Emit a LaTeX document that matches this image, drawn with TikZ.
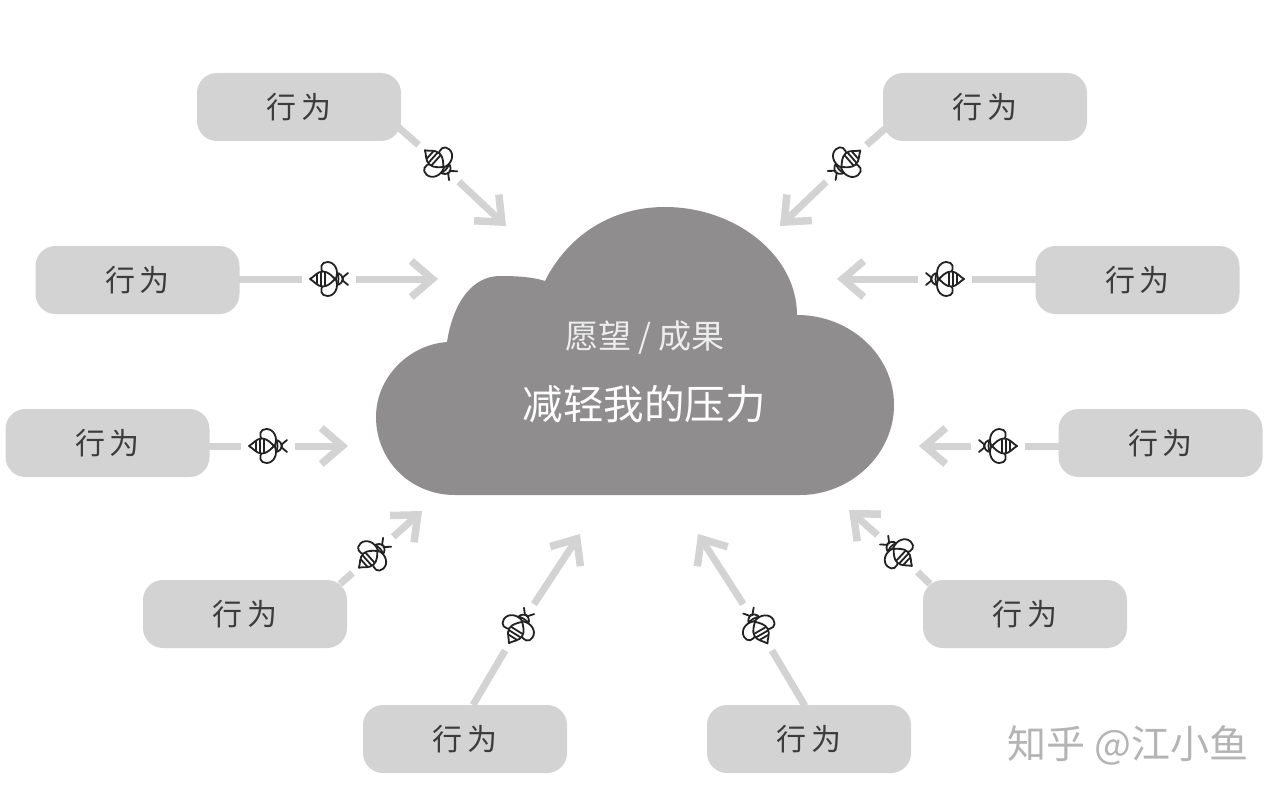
\documentclass[tikz,border=0pt]{standalone}
\usepackage{fontspec}
\setmainfont{Noto Sans CJK SC}
\usetikzlibrary{arrows.meta}
\definecolor{boxgray}{HTML}{D3D3D3}
\definecolor{cloudgray}{HTML}{8F8D8E}
\definecolor{inkgray}{HTML}{3C3C3C}
\definecolor{beeink}{HTML}{222222}
\definecolor{markgray}{HTML}{B4B4B4}
\tikzset{
  actbox/.style={fill=boxgray,rounded corners=20pt,minimum width=204pt,minimum height=68pt,inner sep=0pt,text=inkgray,font=\fontsize{30}{33}\selectfont},
  beept/.style={inner sep=0pt,minimum size=0pt},
  tail/.style={draw=boxgray,line width=7pt,shorten >=27pt},
  head/.style={draw=boxgray,line width=7pt,shorten <=27pt,-{Straight Barb[length=21pt,width=36pt,line width=7.5pt]}},
  beeline/.style={draw=beeink,line width=1.8pt,line join=round,line cap=round,fill=none},
}
\newcommand{\beedraw}[3]{%
  \begin{scope}[shift={(#1,#2)},rotate=#3]
    \draw[beeline,fill=white] (7,-1) .. controls (10,-8) and (6,-17) .. (-1.5,-17) .. controls (-8,-17) and (-10,-11) .. (-5,-5)
      -- (-5,5) .. controls (-10,11) and (-8,17) .. (-1.5,17) .. controls (6,17) and (10,8) .. (7,1) -- cycle;
    \draw[beeline,fill=white] (-19,0) .. controls (-15,-2) and (-12,-7.5) .. (-6,-7.5) .. controls (-1,-7.5) and (3,-3) .. (6,0)
      .. controls (3,3) and (-1,7.5) .. (-6,7.5) .. controls (-12,7.5) and (-15,2) .. (-19,0) -- cycle;
    \draw[beeline] (-12,-4.5) -- (-12,4.5) (-8,-6.5) -- (-8,6.5) (-4,-6.5) -- (-4,6.5);
    \draw[beeline,fill=white] (8,-6) .. controls (11,-6) and (14,-2) .. (14,0) .. controls (14,2) and (11,6) .. (8,6) .. controls (10,2) and (10,-2) .. (8,-6) -- cycle;
    \draw[beeline] (13,-1) -- (19,-6) (13,1) -- (19,6);
  \end{scope}}
\begin{document}
\begin{tikzpicture}[x=1pt,y=-1pt]
\useasboundingbox (0,0) rectangle (1280,797);
\fill[white] (0,0) rectangle (1280,797);
% cloud
\path[fill=cloudgray] (455,495) .. controls (410,495) and (376,460) .. (376,417)
  .. controls (376,378) and (408,345) .. (447,342)
  .. controls (453,303) and (472,276) .. (500,276)
  .. controls (517,276) and (533,277) .. (545,281)
  .. controls (568,235) and (612,207) .. (665,207)
  .. controls (735,207) and (797,255) .. (797,315)
  .. controls (850,315) and (894,355) .. (894,405)
  .. controls (894,455) and (850,495) .. (800,495) -- cycle;
\node[text=white!93!black,font=\fontsize{33}{36}\selectfont] (wish) at (645,338) {愿望 / 成果};
\node[text=white,font=\fontsize{40.5}{44}\selectfont] (goal) at (644,404) {减轻我的压力};
% behaviour boxes
\node[actbox] (b1)  at (299,107)  {\raisebox{-1pt}{行\hspace{5pt}为}};
\node[actbox] (b2)  at (985,107)  {\raisebox{-1pt}{行\hspace{5pt}为}};
\node[actbox] (b3)  at (137.5,280) {\raisebox{-1pt}{行\hspace{5pt}为}};
\node[actbox] (b4)  at (1137.5,280) {\raisebox{-1pt}{行\hspace{5pt}为}};
\node[actbox] (b5)  at (107.5,443) {\raisebox{-1pt}{行\hspace{5pt}为}};
\node[actbox] (b6)  at (1160.5,443) {\raisebox{-1pt}{行\hspace{5pt}为}};
\node[actbox] (b7)  at (245,614)  {\raisebox{-1pt}{行\hspace{5pt}为}};
\node[actbox] (b8)  at (1025,614) {\raisebox{-1pt}{行\hspace{5pt}为}};
\node[actbox] (b9)  at (465,739)  {\raisebox{-1pt}{行\hspace{5pt}为}};
\node[actbox] (b10) at (809,739)  {\raisebox{-1pt}{行\hspace{5pt}为}};
% bee anchors, line starts and tips
\node[beept] (p1) at (439,163) {}; \coordinate (s1) at (397,126); \coordinate (t1) at (506,226);
\node[beept] (p2) at (846,163) {}; \coordinate (s2) at (887,127); \coordinate (t2) at (780,226);
\node[beept] (p3) at (329,279) {}; \coordinate (s3) at (238,279); \coordinate (t3) at (438,279);
\node[beept] (p4) at (945,279) {}; \coordinate (s4) at (1037,279); \coordinate (t4) at (837,279);
\node[beept] (p5) at (268,446) {}; \coordinate (s5) at (208,446); \coordinate (t5) at (348,446);
\node[beept] (p6) at (998,446) {}; \coordinate (s6) at (1060,446); \coordinate (t6) at (919,446);
\node[beept] (p7) at (373,555) {}; \coordinate (s7) at (340,584); \coordinate (t7) at (422,511);
\node[beept] (p8) at (898,553) {}; \coordinate (s8) at (930,584); \coordinate (t8) at (849,510);
\node[beept] (p9) at (519,627) {}; \coordinate (s9) at (473,705); \coordinate (t9) at (580,534);
\node[beept] (p10) at (758,627) {}; \coordinate (s10) at (805,706); \coordinate (t10) at (698,534);
\foreach \i in {1,...,10}{
  \draw[tail] (s\i) -- (p\i);
  \draw[head] (p\i) -- (t\i);
}
% bees
\beedraw{439}{163}{-42}
\beedraw{846}{163}{-139}
\beedraw{329}{279}{0}
\beedraw{945}{279}{180}
\beedraw{268}{446}{0}
\beedraw{998}{446}{180}
\beedraw{373}{555}{42}
\beedraw{898}{553}{137}
\beedraw{519}{627}{58}
\beedraw{758}{627}{120}
% watermark
\node[text=markgray,font=\fontsize{39}{42}\selectfont,anchor=center] (mark) at (1128,745) {知乎 @江小鱼};
\end{tikzpicture}
\end{document}
